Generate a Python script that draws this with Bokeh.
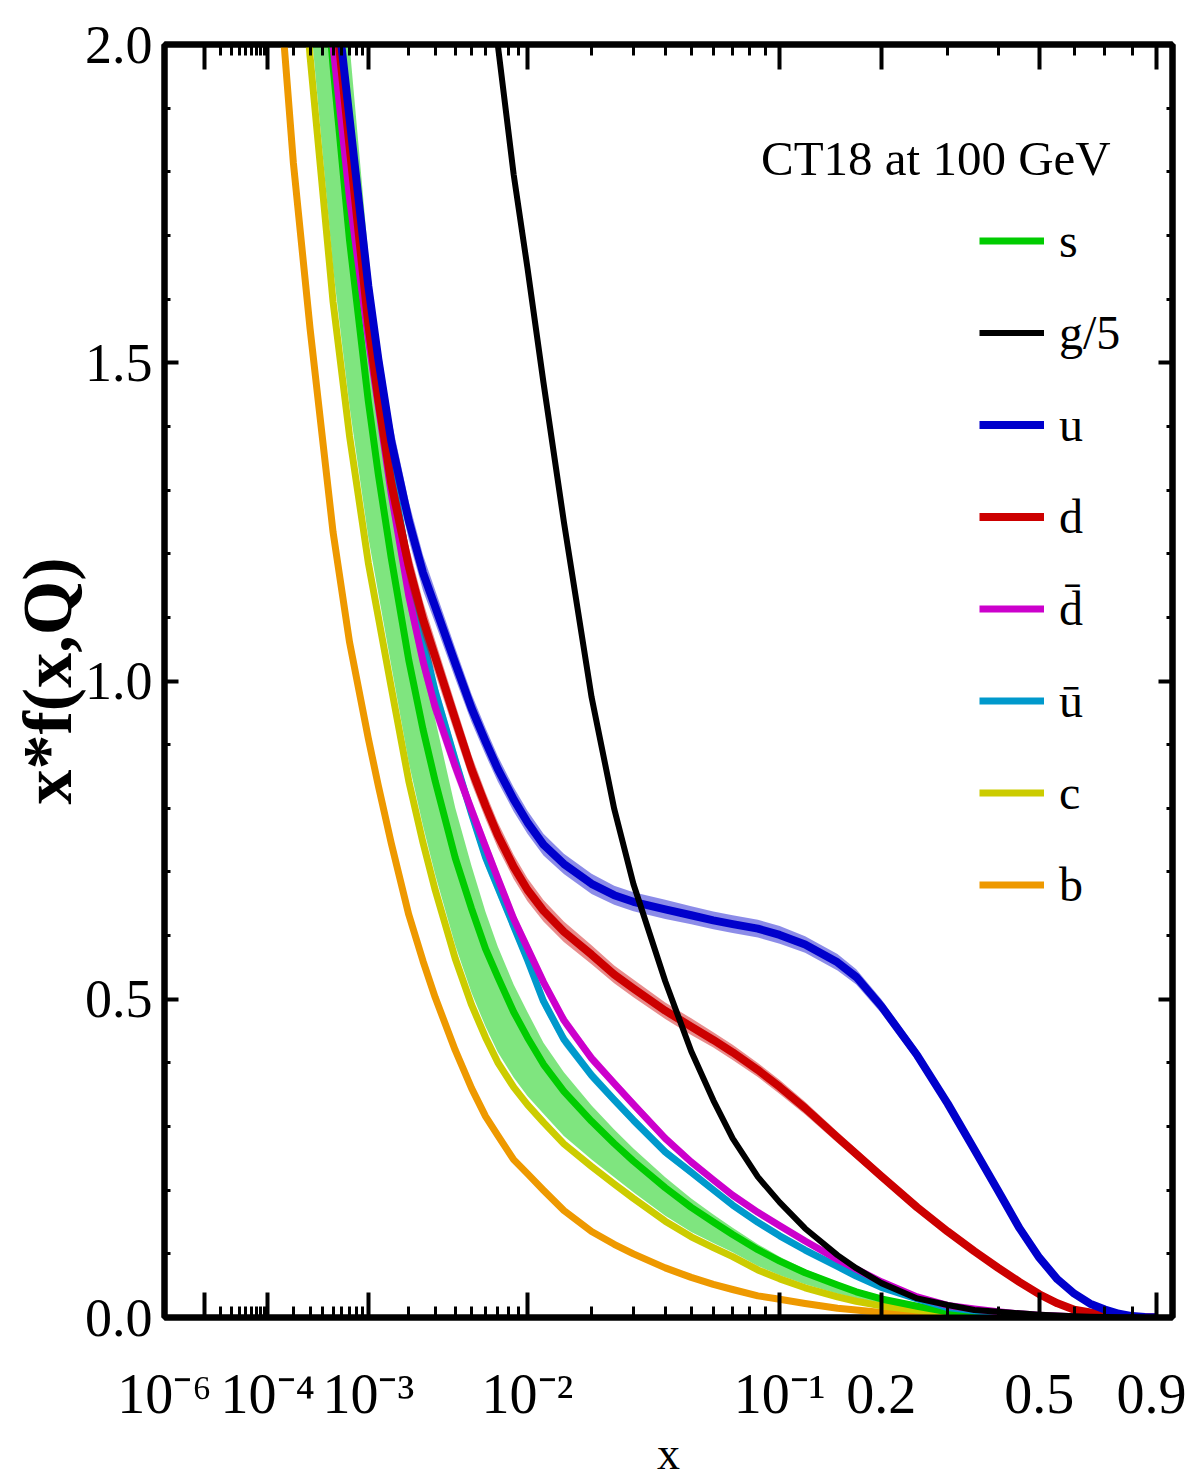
import numpy as np
from bokeh.plotting import figure
from bokeh.models import (Range1d, FixedTicker, LinearAxis, CustomJSTickFormatter,
                          PrintfTickFormatter, Legend, LegendItem, Label, ColumnDataSource)
from bokeh.embed import file_html
from bokeh.resources import INLINE

# ---------------- data ----------------
x_grid = [1e-4, 1.5e-4, 2e-4, 3e-4, 5e-4, 7e-4, 1e-3, 1.2e-3, 1.5e-3, 2e-3, 2.5e-3, 3e-3,
          4e-3, 5e-3, 6e-3, 7e-3, 8.5e-3, 1e-2, 1.2e-2, 1.5e-2, 2e-2, 2.5e-2, 3e-2, 4e-2,
          5e-2, 6e-2, 7e-2, 8.5e-2, 0.1, 0.12, 0.15, 0.17, 0.2, 0.25, 0.3, 0.35, 0.4, 0.45,
          0.5, 0.55, 0.6, 0.65, 0.7, 0.75, 0.8, 0.85, 0.9]

u_val = [4.0, 3.45, 3.1, 2.62, 2.116, 1.884, 1.621, 1.505, 1.377, 1.252,
         1.170, 1.117, 1.028, 0.957, 0.905, 0.862, 0.814, 0.778, 0.743, 0.7126,
         0.6813, 0.6635, 0.6531, 0.6412, 0.632, 0.624, 0.618, 0.611, 0.601, 0.586,
         0.558, 0.535, 0.489, 0.412, 0.336, 0.264, 0.199, 0.140, 0.094, 0.060,
         0.0374, 0.0217, 0.0125, 0.0058, 0.0022, 0.0008, 0.0002]
u_err = [0.09, 0.08, 0.07, 0.06, 0.05, 0.045, 0.04, 0.036, 0.033, 0.03,
         0.028, 0.026, 0.024, 0.022, 0.021, 0.02, 0.019, 0.018, 0.017, 0.016,
         0.016, 0.015, 0.015, 0.015, 0.014, 0.014, 0.014, 0.014, 0.014, 0.013,
         0.013, 0.012, 0.011, 0.01, 0.008, 0.007, 0.005, 0.004, 0.003, 0.002,
         0.0015, 0.001, 0.0006, 0.0003, 0.0001, 0.0, 0.0]

d_val = [3.9, 3.35, 3.0, 2.52, 2.09, 1.84, 1.561, 1.442, 1.311, 1.181,
         1.097, 1.038, 0.940, 0.861, 0.804, 0.758, 0.708, 0.672, 0.639, 0.606,
         0.570, 0.539, 0.517, 0.482, 0.457, 0.436, 0.4167, 0.3889, 0.3622, 0.329,
         0.283, 0.257, 0.222, 0.173, 0.135, 0.104, 0.078, 0.0557, 0.0366, 0.0223,
         0.0123, 0.0079, 0.0044, 0.0022, 0.001, 0.0004, 0.0001]
d_err = [0.09, 0.08, 0.07, 0.06, 0.05, 0.045, 0.04, 0.036, 0.033, 0.03,
         0.028, 0.026, 0.024, 0.022, 0.021, 0.02, 0.019, 0.018, 0.017, 0.016,
         0.015, 0.014, 0.014, 0.013, 0.013, 0.012, 0.012, 0.011, 0.011, 0.01,
         0.009, 0.008, 0.007, 0.006, 0.005, 0.004, 0.003, 0.002, 0.0015, 0.001,
         0.0006, 0.0004, 0.0002, 0.0001, 0.0, 0.0, 0.0]

dbar_val = [3.6, 3.1, 2.8, 2.36, 1.997, 1.758, 1.538, 1.431, 1.294, 1.134,
            1.031, 0.959, 0.866, 0.797, 0.7395, 0.690, 0.6266, 0.5805, 0.527, 0.467,
            0.4072, 0.3679, 0.3347, 0.2814, 0.2443, 0.2162, 0.1921, 0.1653, 0.1440, 0.1201,
            0.0912, 0.0761, 0.0561, 0.0324, 0.019, 0.0135, 0.009, 0.0058, 0.0037, 0.0022,
            0.0013, 0.0007, 0.0004, 0.0002, 0.0001, 0.0, 0.0]
dbar_err = [0.07, 0.06, 0.055, 0.048, 0.042, 0.038, 0.034, 0.031, 0.028, 0.025,
            0.022, 0.02, 0.018, 0.016, 0.015, 0.014, 0.013, 0.012, 0.011, 0.01,
            0.009, 0.008, 0.008, 0.007, 0.006, 0.006, 0.005, 0.005, 0.004, 0.004,
            0.003, 0.003, 0.002, 0.0015, 0.001, 0.0007, 0.0005, 0.0003, 0.0002, 0.0001,
            0.0, 0.0, 0.0, 0.0, 0.0, 0.0, 0.0]

ubar_val = [3.7, 3.2, 2.88, 2.42, 2.053, 1.802, 1.582, 1.475, 1.336, 1.175,
            1.066, 0.984, 0.876, 0.791, 0.723, 0.676, 0.615, 0.562, 0.497, 0.437,
            0.3805, 0.342, 0.310, 0.260, 0.2281, 0.2005, 0.1766, 0.1495, 0.1283, 0.106,
            0.0802, 0.0651, 0.0473, 0.0291, 0.0156, 0.0105, 0.0068, 0.0045, 0.0028, 0.0017,
            0.001, 0.0006, 0.0003, 0.0002, 0.0001, 0.0, 0.0]
ubar_err = [0.07, 0.06, 0.055, 0.048, 0.042, 0.038, 0.034, 0.031, 0.028, 0.025,
            0.022, 0.02, 0.018, 0.016, 0.015, 0.014, 0.013, 0.012, 0.011, 0.01,
            0.009, 0.008, 0.008, 0.007, 0.006, 0.006, 0.005, 0.005, 0.004, 0.004,
            0.003, 0.003, 0.002, 0.0015, 0.001, 0.0007, 0.0005, 0.0003, 0.0002, 0.0001,
            0.0, 0.0, 0.0, 0.0, 0.0, 0.0, 0.0]

s_val = [3.5, 3.0, 2.72, 2.39, 1.966, 1.692, 1.440, 1.324, 1.193, 1.033,
         0.924, 0.843, 0.722, 0.642, 0.579, 0.535, 0.480, 0.440, 0.3978, 0.3553,
         0.3082, 0.2734, 0.2457, 0.2039, 0.1730, 0.150, 0.1305, 0.1066, 0.0885, 0.0703,
         0.0511, 0.0404, 0.0291, 0.0176, 0.0088, 0.0057, 0.0035, 0.0022, 0.0014, 0.0008,
         0.0005, 0.0003, 0.0002, 0.0001, 0.0, 0.0, 0.0]
s_lo = [3.094, 2.682, 2.394, 2.045, 1.648, 1.431, 1.226, 1.137, 1.024, 0.872,
        0.772, 0.696, 0.585, 0.510, 0.457, 0.417, 0.377, 0.348, 0.320, 0.285,
        0.2484, 0.2202, 0.1967, 0.1599, 0.1345, 0.117, 0.1025, 0.081, 0.0665, 0.0521,
        0.0375, 0.0303, 0.0227, 0.0162, 0.0072, 0.0048, 0.0032, 0.0021, 0.0013, 0.0007,
        0.0004, 0.0003, 0.0002, 0.0001, 0.0, 0.0, 0.0]
s_hi = [4.13, 3.54, 3.21, 2.82, 2.32, 2.0, 1.670, 1.523, 1.360, 1.167,
        1.035, 0.940, 0.801, 0.709, 0.637, 0.583, 0.523, 0.480, 0.4316, 0.3855,
        0.3329, 0.2953, 0.2654, 0.2202, 0.1868, 0.162, 0.1409, 0.1151, 0.0956, 0.0759,
        0.0552, 0.0436, 0.0314, 0.019, 0.0095, 0.0062, 0.0038, 0.0024, 0.0015, 0.0009,
        0.0005, 0.0003, 0.0002, 0.0001, 0.0, 0.0, 0.0]

c_val = [3.0, 2.6, 2.32, 1.982, 1.596, 1.385, 1.186, 1.100, 0.990, 0.843,
         0.746, 0.672, 0.564, 0.491, 0.440, 0.401, 0.362, 0.3344, 0.3066, 0.2728,
         0.2373, 0.2099, 0.1871, 0.1514, 0.1267, 0.1097, 0.0956, 0.0747, 0.0607, 0.0467,
         0.0325, 0.0255, 0.0182, 0.0118, 0.0068, 0.0045, 0.003, 0.002, 0.0012, 0.0007,
         0.0004, 0.0003, 0.0002, 0.0001, 0.0, 0.0, 0.0]

b_val = [2.35, 2.036, 1.814, 1.554, 1.234, 1.061, 0.910, 0.835, 0.745, 0.633,
         0.560, 0.503, 0.420, 0.360, 0.316, 0.286, 0.248, 0.226, 0.200, 0.168,
         0.135, 0.115, 0.100, 0.078, 0.063, 0.052, 0.044, 0.034, 0.0286, 0.022,
         0.0146, 0.0118, 0.0079, 0.0052, 0.0033, 0.0022, 0.0014, 0.0009, 0.0006, 0.0004,
         0.0002, 0.0001, 0.0001, 0.0, 0.0, 0.0, 0.0]

g5_val = [12.0, 10.5, 9.5, 8.2, 6.6, 5.7, 4.9, 4.55, 4.15, 3.7,
          3.35, 3.0, 2.65, 2.37, 2.174, 2.0, 1.796, 1.649, 1.469, 1.250,
          0.9746, 0.7992, 0.681, 0.5283, 0.4182, 0.3412, 0.2814, 0.2209, 0.1808, 0.1399,
          0.098, 0.0775, 0.054, 0.030, 0.0197, 0.0118, 0.009, 0.0065, 0.0044, 0.003,
          0.002, 0.0012, 0.0007, 0.0004, 0.0002, 0.0001, 0.0]

x_major_vals = [1e-6, 1e-5, 1e-4, 1e-3, 1e-2, 0.1, 0.2, 0.5, 0.9]
x_major_labels = ["10\u207b\u2076", "", "10\u207b\u2074", "10\u207b\u00b3", "10\u207b\u00b2",
                  "10\u207b\u00b9", "0.2", "0.5", "0.9"]
x_minor_vals = [k * 10.0 ** e for e in (-5, -4, -3, -2) for k in range(2, 10)] + [0.3, 0.4, 0.6, 0.7, 0.8]
y_major_vals = [0.0, 0.5, 1.0, 1.5, 2.0]
y_minor_vals = [0.1, 0.2, 0.3, 0.4, 0.6, 0.7, 0.8, 0.9, 1.1, 1.2, 1.3, 1.4, 1.6, 1.7, 1.8, 1.9]

X_MIN, X_MAX = 1e-6, 0.968
POW = 0.2  # the x axis of the reference is linear in x**0.2


def fwd(v):
    return np.power(np.asarray(v, dtype=float), POW)


def arr(v):
    return np.asarray(v, dtype=float)


# ---------------- data table ----------------
src = ColumnDataSource(dict(
    t=fwd(x_grid),
    u=u_val, u_lo=arr(u_val) - arr(u_err), u_hi=arr(u_val) + arr(u_err),
    d=d_val, d_lo=arr(d_val) - arr(d_err), d_hi=arr(d_val) + arr(d_err),
    dbar=dbar_val, dbar_lo=arr(dbar_val) - arr(dbar_err), dbar_hi=arr(dbar_val) + arr(dbar_err),
    ubar=ubar_val, ubar_lo=arr(ubar_val) - arr(ubar_err), ubar_hi=arr(ubar_val) + arr(ubar_err),
    s=s_val, s_lo=s_lo, s_hi=s_hi, c=c_val, b=b_val, g5=g5_val,
))

FONT = "Liberation Serif"

p = figure(frame_width=1008, frame_height=1273,
           x_range=Range1d(float(fwd(X_MIN)), float(fwd(X_MAX))), y_range=Range1d(0.0, 2.0),
           output_backend="svg", toolbar_location=None,
           min_border_left=164, min_border_right=14, min_border_top=44, min_border_bottom=159,
           background_fill_color="white", border_fill_color="white")
p.xgrid.visible = False
p.ygrid.visible = False
p.outline_line_color = "black"
p.outline_line_width = 6

x_ticker = FixedTicker(ticks=[float(v) for v in fwd(x_major_vals)],
                       minor_ticks=[float(v) for v in fwd(x_minor_vals)])
y_ticker = FixedTicker(ticks=y_major_vals, minor_ticks=y_minor_vals)

x_fmt = CustomJSTickFormatter(args=dict(pos=[float(v) for v in fwd(x_major_vals)], lab=x_major_labels), code="""
let best = 0, bd = Infinity;
for (let i = 0; i < pos.length; i++) { const d = Math.abs(pos[i] - tick); if (d < bd) { bd = d; best = i; } }
return lab[best];
""")


def style_axis(ax, horiz, labels):
    ax.axis_line_color = "black"
    ax.axis_line_width = 6
    ax.major_tick_line_color = "black"
    ax.minor_tick_line_color = "black"
    ax.major_tick_line_width = 4
    ax.minor_tick_line_width = 3
    ax.major_tick_out = 0
    ax.minor_tick_out = 0
    if horiz:
        ax.major_tick_in = 25
        ax.minor_tick_in = 11
    else:
        ax.major_tick_in = 14
        ax.minor_tick_in = 6
    ax.major_label_text_font = FONT
    ax.major_label_text_color = "black"
    ax.axis_label_text_color = "black"
    if not labels:
        ax.formatter = CustomJSTickFormatter(code="return '';")
        ax.major_label_text_font_size = "1px"
        ax.major_label_standoff = 0


xb = p.xaxis[0]
xb.ticker = x_ticker
xb.formatter = x_fmt
style_axis(xb, True, True)
xb.major_label_text_font_size = "56px"
xb.major_label_standoff = 45
xb.axis_label = "x"
xb.axis_label_text_font = FONT
xb.axis_label_text_font_style = "normal"
xb.axis_label_text_font_size = "46px"
xb.axis_label_standoff = 0

yl = p.yaxis[0]
yl.ticker = y_ticker
yl.formatter = PrintfTickFormatter(format="%.1f")
style_axis(yl, False, True)
yl.major_label_text_font_size = "54px"
yl.major_label_standoff = 12
yl.axis_label = "x*f(x,Q)"
yl.axis_label_text_font = FONT
yl.axis_label_text_font_style = "bold"
yl.axis_label_text_font_size = "70px"
yl.axis_label_standoff = -4

xt = LinearAxis(ticker=x_ticker)
style_axis(xt, True, False)
p.add_layout(xt, "above")
yr = LinearAxis(ticker=y_ticker)
style_axis(yr, False, False)
p.add_layout(yr, "right")

# ---------------- curves ----------------
GREEN, BLUE, RED, MAG, CYAN, YEL, ORA = "#00cc00", "#0000cc", "#cc0000", "#cc00cc", "#0099cc", "#cccc00", "#ee9900"

p.varea(x="t", y1="s_lo", y2="s_hi", source=src, fill_color=GREEN, fill_alpha=0.5)
r_b = p.line("t", "b", source=src, line_color=ORA, line_width=7, line_join="round")
r_c = p.line("t", "c", source=src, line_color=YEL, line_width=7, line_join="round")
r_s = p.line("t", "s", source=src, line_color=GREEN, line_width=7, line_join="round")
p.varea(x="t", y1="ubar_lo", y2="ubar_hi", source=src, fill_color=CYAN, fill_alpha=0.35)
r_ubar = p.line("t", "ubar", source=src, line_color=CYAN, line_width=7, line_join="round")
p.varea(x="t", y1="dbar_lo", y2="dbar_hi", source=src, fill_color=MAG, fill_alpha=0.35)
r_dbar = p.line("t", "dbar", source=src, line_color=MAG, line_width=7, line_join="round")
p.varea(x="t", y1="d_lo", y2="d_hi", source=src, fill_color=RED, fill_alpha=0.45)
r_d = p.line("t", "d", source=src, line_color=RED, line_width=8, line_join="round")
p.varea(x="t", y1="u_lo", y2="u_hi", source=src, fill_color=BLUE, fill_alpha=0.45)
r_u = p.line("t", "u", source=src, line_color=BLUE, line_width=8, line_join="round")
r_g = p.line("t", "g5", source=src, line_color="black", line_width=6, line_join="round")

legend = Legend(items=[
    LegendItem(label="s", renderers=[r_s]),
    LegendItem(label="g/5", renderers=[r_g]),
    LegendItem(label="u", renderers=[r_u]),
    LegendItem(label="d", renderers=[r_d]),
    LegendItem(label="d\u0304", renderers=[r_dbar]),
    LegendItem(label="u\u0304", renderers=[r_ubar]),
    LegendItem(label="c", renderers=[r_c]),
    LegendItem(label="b", renderers=[r_b]),
], location=(815, 405), label_text_font=FONT, label_text_font_size="48px", label_text_color="black",
    glyph_width=65, glyph_height=55, label_height=55, spacing=37, padding=10,
    label_standoff=15, border_line_color=None, background_fill_alpha=0.0)
p.add_layout(legend)

p.add_layout(Label(x=0.7751, y=1.821, text="CT18 at 100 GeV", text_font=FONT, text_color="black",
                   text_font_size="49px", text_align="center", text_baseline="middle"))

open("out.html", "w").write(file_html(p, INLINE, title="CT18 at 100 GeV"))
